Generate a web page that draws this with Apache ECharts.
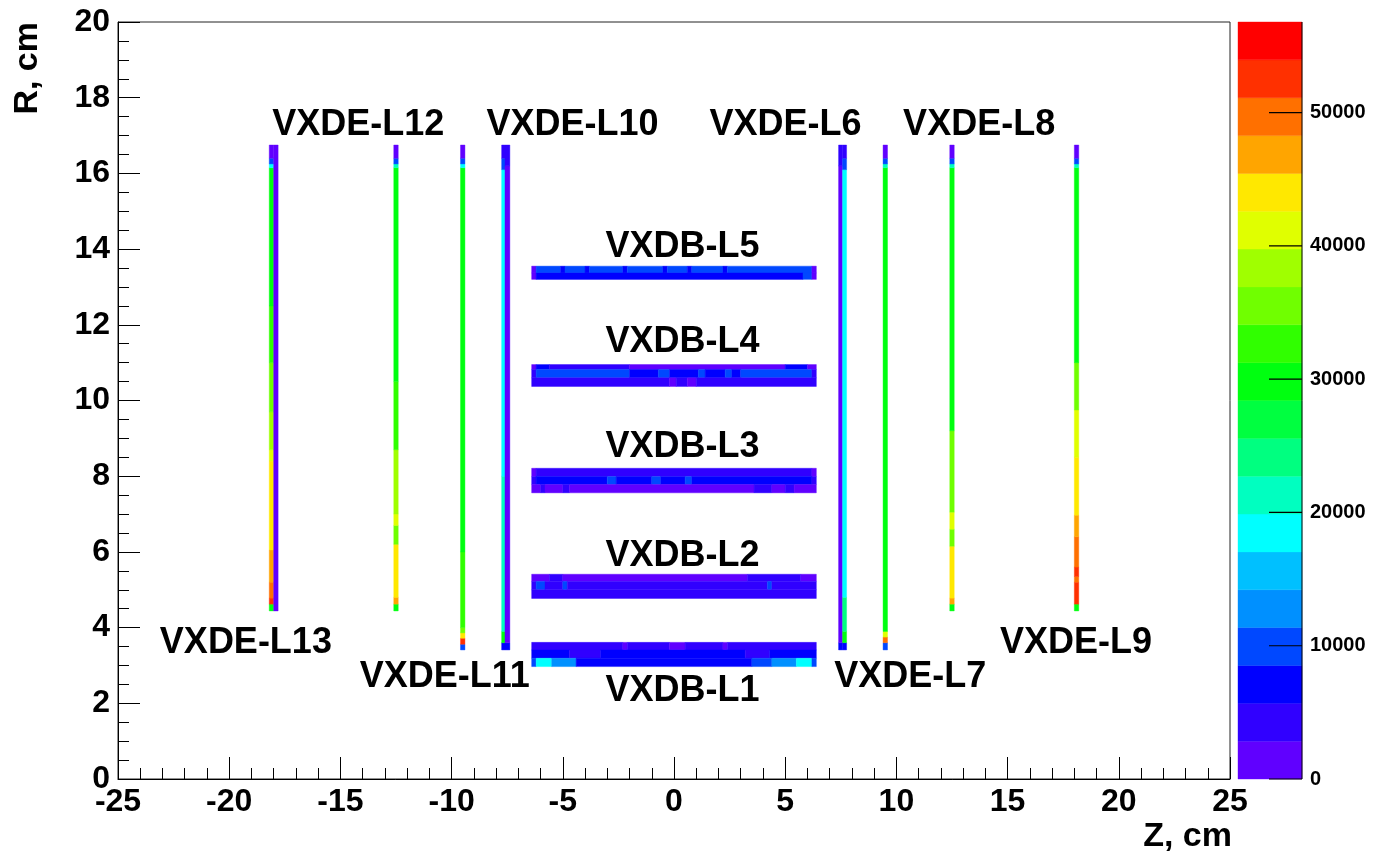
<!DOCTYPE html>
<html>
<head>
<meta charset="utf-8">
<script src="https://cdn.jsdelivr.net/npm/echarts@6/dist/echarts.min.js"></script>
<style>html,body{margin:0;padding:0;background:#fff}#c{width:1373px;height:867px}</style>
</head>
<body>
<div id="c"></div>
<script>
// ---------- scale / palette ----------
const colorMax = 56800;
const palette = ['#6000ff','#3000ff','#0000ff','#0048ff','#0090ff','#00c0ff','#00ffff','#00ffc0','#00ff80','#00ff40',
                 '#00ff10','#30ff00','#70ff00','#a0ff00','#e0ff00','#ffe800','#ffa500','#ff7000','#ff3000','#ff0000'];
const colorTicks = [0, 10000, 20000, 30000, 40000, 50000];

// ---------- endcap disks (VXDE): each column = z range + segments [rMin, rMax, value] ----------
const colL13a = [[4.44,4.62,29800],[4.62,4.78,52500],[4.78,5.2,49700],[5.2,6.05,46900],[6.05,8.4,44000],[8.4,8.7,41200],
                 [8.7,9.7,38300],[9.7,11.0,35500],[11.0,12.5,32700],[12.5,16.15,29800],[16.15,16.25,18500],[16.25,16.4,9900],[16.4,16.75,1400]];
const colL13b = [[4.44,16.75,1400]];
const colL12  = [[4.44,4.62,29800],[4.62,4.8,46900],[4.8,6.2,44000],[6.2,6.7,35500],[6.7,7.0,41200],[7.0,8.7,38300],
                 [8.7,10.5,32700],[10.5,16.15,29800],[16.15,16.25,21300],[16.25,16.4,9900],[16.4,16.75,1400]];
const colL11  = [[3.41,3.56,9900],[3.56,3.72,52500],[3.72,3.86,44000],[3.86,4.0,35500],[4.0,6.0,32700],[6.0,16.15,29800],
                 [16.15,16.25,18500],[16.25,16.4,9900],[16.4,16.75,1400]];
const colL10a = [[3.41,3.6,7100],[3.6,3.9,29800],[3.9,8.0,21300],[8.0,16.1,18500],[16.1,16.4,9900],[16.4,16.75,4300]];
const colL10b = [[3.41,3.6,7100],[3.6,16.2,1400],[16.2,16.75,4300]];
const colL6a  = [[3.41,3.6,7100],[3.6,16.2,1400],[16.2,16.75,4300]];
const colL6b  = [[3.41,3.6,7100],[3.6,3.9,29800],[3.9,4.8,24100],[4.8,16.1,18500],[16.1,16.4,9900],[16.4,16.75,4300]];
const colL7   = [[3.41,3.6,9900],[3.6,3.75,49700],[3.75,3.9,41200],[3.9,16.15,29800],[16.15,16.25,21300],[16.25,16.4,9900],[16.4,16.75,1400]];
const colL8   = [[4.44,4.62,29800],[4.62,4.78,46900],[4.78,6.15,44000],[6.15,6.6,35500],[6.6,7.05,41200],[7.05,9.2,35500],
                 [9.2,16.15,29800],[16.15,16.25,21300],[16.25,16.4,9900],[16.4,16.75,1400]];
const colL9   = [[4.44,4.62,29800],[4.62,5.2,52500],[5.2,5.35,49700],[5.35,5.6,52500],[5.6,6.4,49700],[6.4,6.97,46900],
                 [6.97,8.5,44000],[8.5,9.75,41200],[9.75,11.0,35500],[11.0,16.15,29800],[16.15,16.25,21300],[16.25,16.4,9900],[16.4,16.75,1400]];
// [zMin, zMax, segments]
const endcapColumns = [
  [-18.2,-18.0,colL13a],[-18.0,-17.8,colL13b],[-12.6,-12.4,colL12],[-9.6,-9.4,colL11],
  [-7.75,-7.6,colL10a],[-7.6,-7.38,colL10b],[7.4,7.58,colL6a],[7.58,7.76,colL6b],
  [9.4,9.6,colL7],[12.4,12.6,colL8],[18.0,18.2,colL9]
];

// ---------- barrel layers (VXDB): each row = [rMin, rMax, segments [zMin, zMax, value]] ----------
const barrelL5 = [
  [13.37,13.55,[[-6.4,-6.2,1400],[-6.2,-5.1,9900],[-5.1,-4.9,7100],[-4.9,-4.0,9900],[-4.0,-3.8,7100],[-3.8,-2.3,9900],[-2.3,-2.1,7100],
                [-2.1,-0.5,9900],[-0.5,-0.3,7100],[-0.3,0.6,9900],[0.6,0.8,7100],[0.8,2.2,9900],[2.2,2.4,7100],[2.4,6.2,9900],[6.2,6.4,1400]]],
  [13.2,13.37,[[-6.4,-6.2,1400],[-6.2,5.8,7100],[5.8,6.2,9900],[6.2,6.4,1400]]]
];
const barrelL4 = [
  [10.82,10.95,[[-6.4,-6.2,1400],[-6.2,-5.6,7100],[-5.6,-2.0,4300],[-2.0,5.0,1400],[5.0,6.0,7100],[6.0,6.4,1400]]],
  [10.6,10.82,[[-6.4,-6.2,4300],[-6.2,-2.0,9900],[-2.0,-0.7,7100],[-0.7,-0.2,9900],[-0.2,1.1,7100],[1.1,1.4,9900],[1.4,2.3,7100],
               [2.3,2.6,9900],[2.6,3.0,7100],[3.0,6.2,9900],[6.2,6.4,4300]]],
  [10.37,10.6,[[-6.4,-0.2,4300],[-0.2,0.1,1400],[0.1,0.6,4300],[0.6,1.0,1400],[1.0,6.4,4300]]]
];
const barrelL3 = [
  [7.99,8.21,[[-6.4,-6.2,1400],[-6.2,6.2,4300],[6.2,6.4,1400]]],
  [7.78,7.99,[[-6.4,-6.2,4300],[-6.2,-3.0,7100],[-3.0,-2.6,9900],[-2.6,-1.0,7100],[-1.0,-0.6,9900],[-0.6,0.5,7100],[0.5,0.8,9900],
              [0.8,6.2,7100],[6.2,6.4,4300]]],
  [7.56,7.78,[[-6.4,-6.0,1400],[-6.0,-5.8,4300],[-5.8,-5.0,1400],[-5.0,-4.7,4300],[-4.7,3.6,1400],[3.6,4.4,4300],[4.4,5.0,1400],
              [5.0,5.4,4300],[5.4,6.4,1400]]]
];
const barrelL2 = [
  [5.22,5.41,[[-6.4,-5.6,1400],[-5.6,-5.0,4300],[-5.0,3.3,1400],[3.3,5.7,4300],[5.7,6.4,1400]]],
  [5.0,5.22,[[-6.4,-6.2,4300],[-6.2,-5.8,9900],[-5.8,-5.0,4300],[-5.0,-4.8,9900],[-4.8,4.2,4300],[4.2,4.4,9900],[4.4,6.4,4300]]],
  [4.77,5.0,[[-6.4,6.4,4300]]]
];
const barrelL1 = [
  [3.41,3.61,[[-6.4,-2.3,4300],[-2.3,-2.1,1400],[-2.1,-0.2,4300],[-0.2,0.5,1400],[0.5,2.2,4300],[2.2,2.4,1400],[2.4,6.4,4300]]],
  [3.19,3.41,[[-6.4,-4.7,7100],[-4.7,-3.3,4300],[-3.3,3.2,7100],[3.2,4.3,4300],[4.3,6.4,7100]]],
  [2.97,3.19,[[-6.4,-6.2,9900],[-6.2,-5.5,18500],[-5.5,-4.4,12800],[-4.4,3.5,7100],[3.5,4.4,9900],[4.4,5.5,12800],[5.5,6.2,18500],[6.2,6.4,9900]]]
];
const barrelLayers = [barrelL1, barrelL2, barrelL3, barrelL4, barrelL5];

// ---------- layer labels ----------
const layerNames  = ['VXDE-L12','VXDE-L10','VXDE-L6','VXDE-L8','VXDB-L5','VXDB-L4','VXDB-L3','VXDB-L2','VXDB-L1','VXDE-L13','VXDE-L11','VXDE-L7','VXDE-L9'];
const layerLabelZ = [-14.2,-4.56,5.01,13.72,0.38,0.38,0.38,0.38,0.38,-19.25,-10.31,10.62,18.08];
const layerLabelR = [17.28,17.28,17.28,17.28,14.06,11.55,8.77,5.89,2.32,3.59,2.69,2.69,3.59];

// ---------- build cells [z0, z1, r0, r1, value] ----------
const cells = [];
endcapColumns.forEach(([z0, z1, segs]) => segs.forEach(([r0, r1, v]) => cells.push([z0, z1, r0, r1, v])));
barrelLayers.forEach(rows => rows.forEach(([r0, r1, segs]) => segs.forEach(([z0, z1, v]) => cells.push([z0, z1, r0, r1, v]))));

const step = colorMax / palette.length;
const barCells = palette.map((c, i) => [0, 1, i * step, (i + 1) * step, (i + 0.5) * step]);
const pieces = palette.map((c, i) => i === palette.length - 1
  ? { gte: i * step, lte: colorMax * 10, color: c }
  : { gte: i * step, lt: (i + 1) * step, color: c });

function renderCell(params, api) {
  const p0 = api.coord([api.value(0), api.value(3)]);
  const p1 = api.coord([api.value(1), api.value(2)]);
  const color = api.visual('color');
  return {
    type: 'rect',
    shape: { x: p0[0], y: p0[1], width: p1[0] - p0[0], height: p1[1] - p0[1] },
    style: { fill: color, stroke: color, lineWidth: 0.4 }
  };
}

const FONT = '"Liberation Sans", Arial, Helvetica, sans-serif';
const labelData = layerNames.map((n, i) => [layerLabelZ[i], layerLabelR[i]]);
const tickData = colorTicks.map(v => [1, v]);

const chart = echarts.init(document.getElementById('c'), null, { renderer: 'canvas' });
chart.setOption({
  animation: false,
  backgroundColor: '#fff',
  grid: [
    { left: 118, right: 143, top: 22, bottom: 88, show: true, borderColor: '#222', borderWidth: 1,
      backgroundColor: 'transparent', outerBoundsMode: 'none', containLabel: false },
    { left: 1238, top: 22, width: 64, height: 757, show: false, outerBoundsMode: 'none', containLabel: false }
  ],
  xAxis: [
    { type: 'value', gridIndex: 0, min: -25, max: 25, interval: 5,
      axisLine: { show: true, onZero: false, lineStyle: { color: '#000', width: 1 } },
      axisTick: { show: true, inside: true, length: 22, lineStyle: { color: '#000', width: 1 } },
      minorTick: { show: true, splitNumber: 5, length: 11, lineStyle: { color: '#000', width: 1 } },
      splitLine: { show: false }, minorSplitLine: { show: false },
      axisLabel: { show: true, fontSize: 32, fontWeight: 'bold', color: '#000', fontFamily: FONT, margin: 7 } },
    { type: 'value', gridIndex: 1, min: 0, max: 1, show: false }
  ],
  yAxis: [
    { type: 'value', gridIndex: 0, min: 0, max: 20, interval: 2,
      axisLine: { show: true, onZero: false, lineStyle: { color: '#000', width: 1 } },
      axisTick: { show: true, inside: true, length: 22, lineStyle: { color: '#000', width: 1 } },
      minorTick: { show: true, splitNumber: 4, length: 11, lineStyle: { color: '#000', width: 1 } },
      splitLine: { show: false }, minorSplitLine: { show: false },
      axisLabel: { show: true, fontSize: 32, fontWeight: 'bold', color: '#000', fontFamily: FONT, margin: 8 } },
    { type: 'value', gridIndex: 1, min: 0, max: colorMax, show: false }
  ],
  visualMap: {
    type: 'piecewise', show: false, dimension: 4, seriesIndex: [0, 1], pieces: pieces
  },
  graphic: [
    { type: 'text', x: 1232, y: 837, style: { text: 'Z, cm', font: 'bold 34px ' + FONT, fill: '#000', align: 'right', verticalAlign: 'middle' } },
    { type: 'text', x: 28, y: 22, rotation: Math.PI / 2, style: { text: 'R, cm', font: 'bold 34px ' + FONT, fill: '#000', align: 'right', verticalAlign: 'middle' } }
  ],
  series: [
    { type: 'custom', xAxisIndex: 0, yAxisIndex: 0, data: cells, renderItem: renderCell, clip: true, silent: true },
    { type: 'custom', xAxisIndex: 1, yAxisIndex: 1, data: barCells, renderItem: renderCell, clip: false, silent: true },
    { type: 'custom', xAxisIndex: 0, yAxisIndex: 0, data: labelData, clip: false, silent: true, z: 5,
      renderItem: function (params, api) {
        const p = api.coord([api.value(0), api.value(1)]);
        return { type: 'text', x: p[0], y: p[1],
          style: { text: layerNames[params.dataIndex], font: 'bold 36px ' + FONT, fill: '#000', align: 'center', verticalAlign: 'middle' } };
      } },
    { type: 'custom', xAxisIndex: 1, yAxisIndex: 1, data: tickData, clip: false, silent: true, z: 6,
      renderItem: function (params, api) {
        const v = api.value(1);
        const p = api.coord([1, v]);
        const children = [
          { type: 'line', shape: { x1: p[0] - 33, y1: p[1], x2: p[0], y2: p[1] }, style: { stroke: '#000', lineWidth: 1.2 } },
          { type: 'text', x: p[0] + 8, y: p[1], style: { text: String(v), font: 'bold 20px ' + FONT, fill: '#000', align: 'left', verticalAlign: 'middle' } }
        ];
        if (params.dataIndex === 0) {
          const top = api.coord([1, colorMax]);
          children.push({ type: 'line', shape: { x1: p[0], y1: p[1], x2: top[0], y2: top[1] }, style: { stroke: '#000', lineWidth: 1 } });
        }
        return { type: 'group', children: children };
      } }
  ]
});
</script>
</body>
</html>
